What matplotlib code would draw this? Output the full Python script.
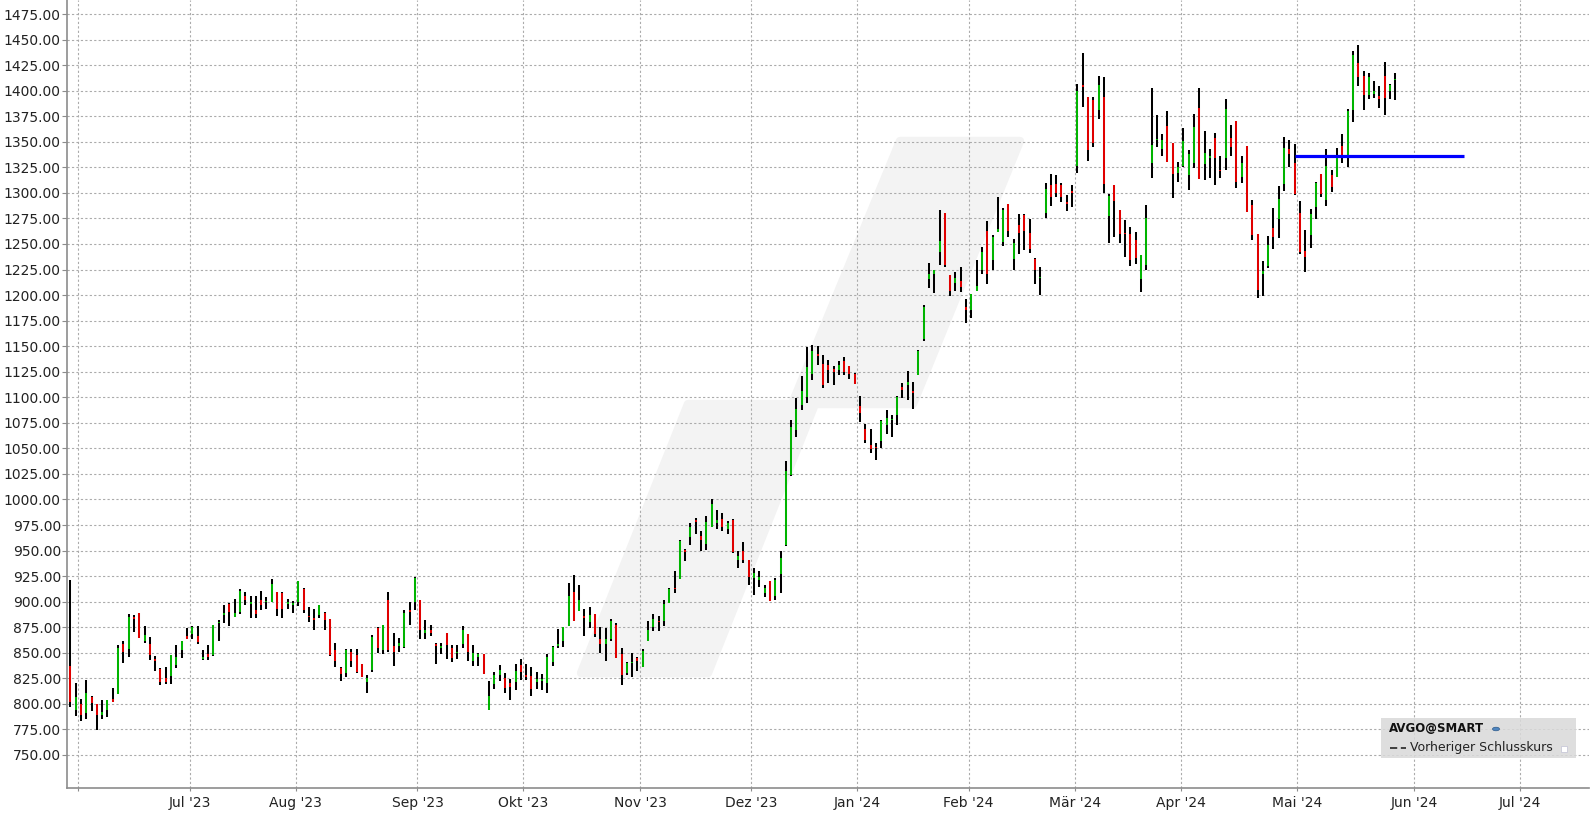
import numpy as np
import pandas as pd
import matplotlib
matplotlib.use("Agg")
import matplotlib.pyplot as plt
from matplotlib.patches import Polygon, Rectangle, Circle
from matplotlib.lines import Line2D

# Tageskurse AVGO, 30.05.2023 - 28.05.2024
opens = [837, 794, 800, 791, 807, 800, 789, 794, 805, 810, 859, 854, 885, 889, 862, 859, 844, 834, 825, 827,
         838, 853, 866, 868, 866, 844, 849, 848, 879, 887, 898, 885, 890, 906, 898, 892, 902, 900, 900, 909,
         908, 898, 897, 900, 912, 886, 884, 887, 889, 883, 853, 835, 830, 851, 848, 839, 821, 833, 874, 853,
         902, 857, 857, 856, 892, 900, 902, 869, 872, 859, 855, 869, 855, 850, 859, 868, 842, 846, 849, 794,
         819, 828, 825, 820, 821, 838, 828, 827, 821, 822, 820, 841, 857, 862, 876, 909, 891, 886, 880, 888,
         863, 859, 863, 877, 849, 830, 840, 845, 836, 862, 875, 881, 881, 899, 913, 922, 951, 963, 980, 964,
         956, 973, 977, 981, 971, 980, 941, 950, 941, 923, 921, 908, 920, 906, 927, 955, 1024, 1068, 1092, 1100,
         1123, 1142, 1133, 1132, 1128, 1127, 1135, 1131, 1123, 1091, 1069, 1053, 1051, 1057, 1073, 1078, 1083, 1110, 1112, 1106,
         1122, 1157, 1216, 1221, 1242, 1280, 1220, 1212, 1214, 1188, 1185, 1204, 1225, 1263, 1234, 1262, 1252, 1289, 1235, 1269,
         1278, 1261, 1235, 1217, 1280, 1308, 1309, 1308, 1291, 1302, 1326, 1406, 1394, 1391, 1381, 1394, 1277, 1308, 1283, 1261,
         1260, 1254, 1216, 1229, 1329, 1352, 1343, 1365, 1349, 1319, 1326, 1317, 1329, 1383, 1328, 1334, 1354, 1322, 1334, 1354,
         1370, 1316, 1346, 1288, 1260, 1221, 1228, 1266, 1274, 1309, 1343, 1329, 1280, 1243, 1259, 1286, 1318, 1293, 1317, 1316,
         1346, 1337, 1381, 1427, 1414, 1396, 1397, 1395, 1414, 1400, 1410]
highs = [921, 820, 805, 823, 808, 800, 804, 804, 816, 858, 862, 888, 887, 889, 876, 865, 847, 835, 836, 848,
         858, 862, 874, 876, 876, 853, 858, 877, 882, 897, 899, 903, 912, 909, 906, 906, 910, 905, 922, 909,
         909, 903, 901, 920, 913, 895, 893, 897, 890, 883, 860, 836, 854, 854, 854, 839, 828, 867, 875, 877,
         909, 869, 864, 892, 900, 924, 902, 882, 877, 860, 860, 869, 858, 858, 876, 868, 858, 850, 849, 822,
         831, 838, 830, 824, 839, 844, 839, 836, 831, 829, 849, 857, 873, 875, 918, 926, 916, 893, 895, 888,
         875, 874, 883, 879, 855, 841, 850, 846, 854, 881, 888, 886, 902, 913, 930, 960, 952, 977, 982, 969,
         984, 1000, 990, 987, 979, 981, 950, 958, 941, 933, 930, 916, 920, 923, 950, 1038, 1078, 1099, 1121, 1149,
         1151, 1150, 1141, 1136, 1131, 1135, 1139, 1131, 1124, 1101, 1074, 1069, 1055, 1078, 1088, 1083, 1101, 1114, 1126, 1115,
         1146, 1190, 1231, 1225, 1283, 1280, 1220, 1223, 1227, 1196, 1201, 1234, 1247, 1272, 1259, 1296, 1285, 1289, 1255, 1279,
         1279, 1274, 1236, 1227, 1310, 1318, 1317, 1310, 1298, 1308, 1407, 1437, 1394, 1394, 1414, 1413, 1299, 1308, 1283, 1273,
         1267, 1262, 1239, 1288, 1403, 1376, 1358, 1380, 1349, 1330, 1363, 1342, 1377, 1403, 1361, 1343, 1359, 1336, 1392, 1366,
         1370, 1336, 1346, 1293, 1260, 1233, 1258, 1285, 1307, 1355, 1352, 1348, 1292, 1264, 1284, 1311, 1318, 1343, 1322, 1344,
         1358, 1382, 1439, 1445, 1419, 1417, 1409, 1405, 1428, 1407, 1417]
lows = [797, 788, 783, 785, 793, 774, 785, 787, 802, 810, 840, 846, 870, 864, 860, 843, 832, 818, 819, 819,
        835, 845, 863, 863, 859, 843, 843, 847, 862, 879, 876, 885, 888, 897, 884, 884, 892, 893, 900, 886,
        884, 893, 889, 896, 889, 880, 872, 884, 872, 847, 836, 822, 826, 836, 830, 826, 811, 831, 850, 849,
        851, 837, 851, 855, 877, 892, 863, 863, 866, 839, 849, 844, 841, 844, 855, 842, 837, 837, 829, 794,
        815, 822, 811, 804, 814, 823, 823, 808, 815, 814, 811, 837, 855, 856, 876, 881, 891, 866, 874, 865,
        850, 842, 862, 845, 818, 828, 826, 832, 836, 862, 871, 871, 876, 899, 908, 922, 940, 955, 966, 950,
        951, 973, 971, 969, 966, 948, 933, 938, 916, 907, 914, 905, 901, 902, 908, 954, 1023, 1061, 1088, 1094,
        1117, 1132, 1109, 1114, 1112, 1122, 1122, 1118, 1113, 1076, 1055, 1045, 1039, 1050, 1064, 1061, 1073, 1099, 1097, 1089,
        1122, 1155, 1207, 1202, 1229, 1227, 1199, 1204, 1203, 1173, 1178, 1204, 1221, 1211, 1225, 1262, 1248, 1257, 1225, 1240,
        1244, 1241, 1211, 1200, 1275, 1287, 1296, 1291, 1282, 1286, 1319, 1384, 1331, 1345, 1372, 1300, 1251, 1257, 1251, 1237,
        1228, 1230, 1203, 1225, 1315, 1345, 1336, 1330, 1295, 1311, 1325, 1303, 1324, 1314, 1313, 1315, 1308, 1315, 1322, 1336,
        1305, 1310, 1281, 1254, 1197, 1199, 1226, 1245, 1256, 1302, 1325, 1298, 1240, 1223, 1246, 1274, 1296, 1287, 1301, 1316,
        1329, 1325, 1369, 1405, 1381, 1392, 1393, 1383, 1376, 1392, 1391]
closes = [802, 807, 789, 811, 801, 789, 792, 804, 802, 855, 851, 885, 883, 864, 867, 848, 842, 821, 821, 848,
          846, 862, 863, 875, 861, 846, 846, 877, 880, 889, 890, 889, 910, 902, 900, 888, 897, 901, 917, 893,
          893, 900, 899, 920, 892, 885, 882, 897, 882, 848, 842, 829, 853, 842, 831, 826, 825, 865, 855, 877,
          853, 851, 860, 889, 890, 923, 872, 872, 869, 857, 857, 858, 845, 851, 872, 851, 850, 849, 829, 808,
          828, 833, 816, 817, 832, 831, 826, 815, 824, 824, 846, 856, 859, 875, 906, 881, 902, 884, 887, 868,
          859, 863, 881, 845, 828, 840, 841, 842, 852, 872, 883, 880, 898, 912, 912, 959, 949, 973, 978, 960,
          978, 996, 980, 973, 977, 949, 945, 941, 924, 928, 924, 913, 901, 921, 943, 1028, 1071, 1089, 1106, 1130,
          1145, 1140, 1112, 1127, 1125, 1132, 1125, 1123, 1113, 1085, 1058, 1049, 1050, 1077, 1080, 1079, 1100, 1107, 1115, 1104,
          1145, 1188, 1221, 1225, 1253, 1229, 1204, 1217, 1208, 1185, 1201, 1209, 1242, 1221, 1257, 1265, 1283, 1263, 1251, 1261,
          1263, 1245, 1225, 1218, 1304, 1296, 1300, 1296, 1289, 1300, 1400, 1404, 1342, 1349, 1406, 1309, 1297, 1292, 1260, 1260,
          1234, 1236, 1239, 1275, 1347, 1353, 1352, 1330, 1318, 1325, 1351, 1338, 1364, 1314, 1339, 1336, 1334, 1321, 1382, 1345,
          1311, 1329, 1281, 1259, 1205, 1224, 1249, 1257, 1294, 1344, 1338, 1299, 1242, 1237, 1279, 1310, 1299, 1326, 1306, 1334,
          1337, 1380, 1435, 1413, 1396, 1413, 1400, 1392, 1393, 1406, 1411]

feiertage = ['2023-06-19', '2023-07-04', '2023-09-04', '2023-11-23', '2023-12-25',
             '2024-01-01', '2024-01-15', '2024-02-19', '2024-03-29', '2024-05-27']
daten = pd.bdate_range('2023-05-30', '2024-05-28', freq='C', holidays=feiertage)
zukunft = pd.bdate_range('2024-05-29', '2024-07-31')
alle_tage = daten.append(zukunft)

# blaue Linie
linie_wert = 1336
linie_von = '2024-04-30'
linie_bis = '2024-06-14'

monate = {1: 'Jan', 2: 'Feb', 3: 'Mär', 4: 'Apr', 5: 'Mai', 6: 'Jun',
          7: 'Jul', 8: 'Aug', 9: 'Sep', 10: 'Okt', 11: 'Nov', 12: 'Dez'}

W, H = 1596, 816
fig = plt.figure(figsize=(W / 100, H / 100), dpi=100)
ax = fig.add_axes([67.3 / W, 27.7 / H, 1522 / W, 788.3 / H])

def px(x, y):
    # pixel (oben links) -> figure-Koordinaten
    return (x / W, 1 - y / H)

# Wasserzeichen im Hintergrund (Ecken per runder Kante)
wz = [(581, 673), (708, 673), (815, 404), (913, 404), (1020, 141),
      (900, 141), (792, 404), (688, 404)]
ax.add_patch(Polygon([px(*p) for p in wz], closed=True, transform=fig.transFigure,
                     facecolor='#f3f3f3', edgecolor='#f3f3f3', lw=6, zorder=0.1, joinstyle='round'))

x = np.arange(len(opens))
o = np.array(opens); c = np.array(closes)
farben = np.where(c >= o, '#00b400', '#e00000')
ax.vlines(x, lows, highs, color='black', lw=1.45, zorder=2, capstyle='butt')
ax.vlines(x, np.minimum(o, c), np.maximum(o, c), colors=farben, lw=1.45, zorder=3, capstyle='butt')

i_von = alle_tage.get_loc(pd.Timestamp(linie_von))
i_bis = alle_tage.get_loc(pd.Timestamp(linie_bis))
ax.hlines(linie_wert, i_von, i_bis, color='#0000ff', lw=2.3, zorder=4)

# Monats-Ticks
ticks, labels = [], []
for i in range(1, len(alle_tage)):
    if alle_tage[i].month != alle_tage[i - 1].month:
        ticks.append(i - 0.5)
        d = alle_tage[i]
        labels.append('' if i < 10 else f"{monate[d.month]} '{d.strftime('%y')}")
ax.set_xticks(ticks)
ax.set_xticklabels(labels)

yt = np.arange(750, 1476, 25)
ax.set_yticks(yt)
ax.set_yticklabels([f'{v:.2f}' for v in yt])

ax.set_xlim(-0.57, 286.6)
ax.set_ylim(717.4, 1488.7)

ax.set_axisbelow(True)
ax.grid(True, color='#ababab', linestyle=(0, (2, 2)), linewidth=0.8)
for s in ['top', 'right']:
    ax.spines[s].set_visible(False)
for s in ['left', 'bottom']:
    ax.spines[s].set_color('#8c8c8c')
    ax.spines[s].set_linewidth(1.2)
ax.tick_params(axis='y', length=3.6, width=0.8, color='#8c8c8c', pad=1, labelsize=10, labelcolor='#222222')
ax.tick_params(axis='x', length=2.5, width=0.8, color='#8c8c8c', pad=3, labelsize=10, labelcolor='#222222')

# Legende
fig.patches.append(Rectangle(px(1381, 758), 195 / W, 40 / H, transform=fig.transFigure,
                             facecolor='#d9d9d9', alpha=0.85, edgecolor='none', zorder=5))
fig.text(1389 / W, 1 - 729 / H, 'AVGO@SMART', fontsize=8.5, fontweight='bold',
         color='#111111', va='center', ha='left', zorder=6)
fig.patches.append(Circle(px(1496, 729), 3.5 / W, transform=fig.transFigure,
                          facecolor='#4f86c0', edgecolor='#2d5a8a', lw=0.5, zorder=6))
fig.lines.append(Line2D([1390 / W, 1406 / W], [1 - 748 / H, 1 - 748 / H], transform=fig.transFigure,
                        color='#333333', lw=1.3, dashes=(4, 2), zorder=6))
fig.text(1410 / W, 1 - 748 / H, 'Vorheriger Schlusskurs', fontsize=9, color='#222222',
         va='center', ha='left', zorder=6)
fig.patches.append(Rectangle(px(1561, 752), 6 / W, 6 / H, transform=fig.transFigure,
                             facecolor='white', edgecolor='#c8c8d8', lw=0.6, zorder=6))

fig.savefig('out.png', dpi=100)
